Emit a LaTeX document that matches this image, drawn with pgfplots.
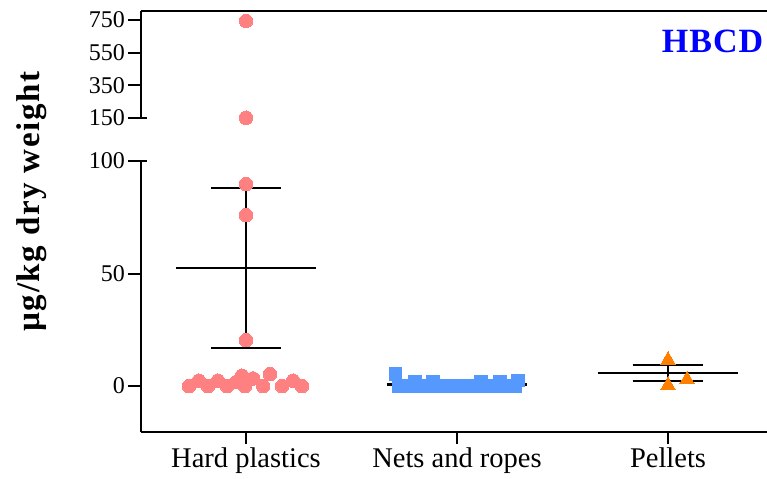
\documentclass[border=0pt]{standalone}
\usepackage{pgfplots}
\pgfplotsset{compat=1.18}
\usepackage{pgfplotstable}
\usepackage{fontspec}
\setmainfont{Liberation Serif}

\definecolor{hardc}{RGB}{255,128,128}
\definecolor{netc}{RGB}{85,153,255}
\definecolor{pelc}{RGB}{255,128,0}
\definecolor{hbcdc}{RGB}{0,0,255}

% Individual measurements (x = category index + jitter, y = ug/kg)
\pgfplotstableread{
x       y
-0.270  0.0
-0.180  0.0
-0.090  0.0
-0.005  0.0
 0.081  0.0
 0.171  0.0
 0.265  0.0
-0.223  2.4
-0.133  2.4
 0.223  2.4
-0.043  2.0
-0.019  4.6
 0.033  3.4
 0.114  5.3
 0.000  20.4
 0.000  76.0
 0.000  89.8
}\hardlow
\pgfplotstableread{
x       y
 0.000  152
 0.000  744
}\hardhigh
\pgfplotstableread{
x       y
 0.725  0.0
 0.787  0.0
 0.848  0.0
 0.910  0.0
 0.972  0.0
 1.033  0.0
 1.095  0.0
 1.156  0.0
 1.218  0.0
 1.275  0.0
 0.801  2.0
 0.886  1.8
 1.114  1.8
 1.204  1.8
 1.289  2.4
 0.709  5.4
}\nets
\pgfplotstableread{
x       y
 2.000  11.6
 2.000  0.4
 2.090  2.9
}\pellets

\pgfplotsset{
  brokenaxis/.style={
    scale only axis, clip=false,
    xmin=-0.5, xmax=2.47,
    width=626.7bp,
    axis line style={line width=2bp, black},
    every tick/.append style={line width=2bp, black},
    tick align=outside,
    major tick length=12bp,
    /pgf/number format/assume math mode=true,
    yticklabel style={font=\fontsize{24bp}{28bp}\selectfont},
    xticklabel style={font=\fontsize{28.5bp}{32bp}\selectfont},
  },
  meanline/.style={black, line width=2.4bp, no marks},
  errline/.style={black, line width=2bp, no marks},
}

\begin{document}
\begin{tikzpicture}
% lower segment of the broken y axis
\begin{axis}[brokenaxis, at={(140.5bp,47bp)}, anchor=south west,
  height=270.9bp,
  ymin=-20.4, ymax=100, ytick={0,50,100},
  axis x line*=bottom, axis y line*=left,
  xtick={0,1,2}, xticklabels={Hard plastics,Nets and ropes,Pellets}]
  % Nets and ropes
  \addplot[only marks, mark=square*, mark size=6.25bp,
    mark options={draw=netc, fill=netc, line width=0pt}] table {\nets};
  \addplot[meanline] coordinates {(0.668,0.67) (1.332,0.67)};
  \addplot[errline] coordinates {(0.832,0.45) (1.168,0.45)};
  \addplot[errline] coordinates {(0.832,0.9) (1.168,0.9)};
  % Pellets
  \addplot[only marks, mark=triangle*, mark size=8.3bp,
    mark options={draw=pelc, fill=pelc, line width=0pt}] table {\pellets};
  \addplot[meanline] coordinates {(1.668,5.9) (2.332,5.9)};
  \addplot[errline] coordinates {(1.832,9.3) (2.168,9.3)};
  \addplot[errline] coordinates {(1.832,2.4) (2.168,2.4)};
  \addplot[errline] coordinates {(2,2.4) (2,9.3)};
  % Hard plastics
  \addplot[meanline] coordinates {(-0.332,52.4) (0.332,52.4)};
  \addplot[errline] coordinates {(-0.166,88) (0.166,88)};
  \addplot[errline] coordinates {(-0.166,16.9) (0.166,16.9)};
  \addplot[errline] coordinates {(0,16.9) (0,88)};
  \addplot[only marks, mark=*, mark size=6.8bp,
    mark options={draw=hardc, fill=hardc, line width=0pt}] table {\hardlow};
  % inner part of the tick that marks the axis break
  \draw[line width=2bp] (axis cs:-0.5,100) -- ([xshift=6bp]axis cs:-0.5,100);
\end{axis}
% upper segment of the broken y axis
\begin{axis}[brokenaxis, at={(140.5bp,361bp)}, anchor=south west,
  height=107bp,
  ymin=150, ymax=805, ytick={150,350,550,750},
  axis x line*=top, axis y line*=left, xtick=\empty]
  \addplot[only marks, mark=*, mark size=6.8bp,
    mark options={draw=hardc, fill=hardc, line width=0pt}] table {\hardhigh};
  \draw[line width=2bp] (axis cs:-0.5,150) -- ([xshift=6bp]axis cs:-0.5,150);
\end{axis}
\node[rotate=90] at (32bp,277.5bp)
  {\fontsize{33bp}{38bp}\selectfont\bfseries\addfontfeature{LetterSpace=5}µg/kg dry weight};
\node[anchor=base, text=hbcdc] at (712.5bp,426bp)
  {\fontsize{34bp}{38bp}\selectfont\bfseries\addfontfeature{LetterSpace=3}HBCD};
\pgfresetboundingbox
\path (0,0) rectangle (767bp,479bp);
\end{tikzpicture}
\end{document}
